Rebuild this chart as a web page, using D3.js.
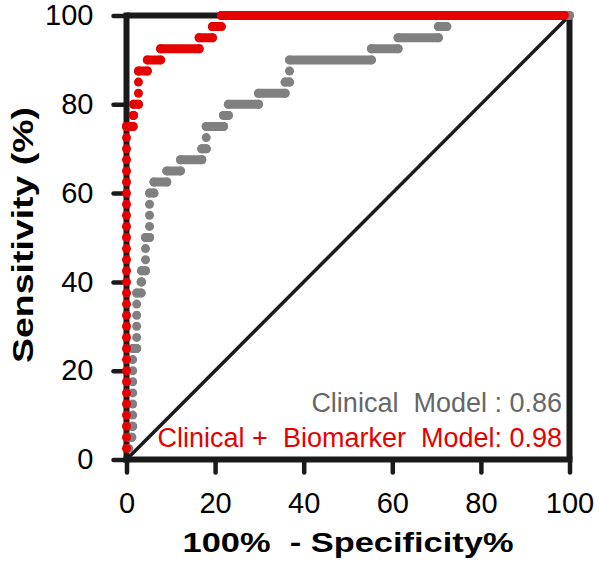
<!DOCTYPE html>
<html><head><meta charset="utf-8">
<script src="https://cdn.jsdelivr.net/npm/d3@7"></script>
<style>
body{margin:0;background:#fff}
text{font-family:"Liberation Sans",Arial,sans-serif}
</style>
</head><body>
<svg id="chart" width="600" height="570"></svg>
<script>
const xTicks = [0, 20, 40, 60, 80, 100];
const yTicks = [0, 20, 40, 60, 80, 100];
const xTitle = "100%  - Specificity%";
const yTitle = "Sensitivity (%)";

// sensitivity levels (one per positive case)
const tprLevels = [2.5,5,7.5,10,12.5,15,17.5,20,22.5,25,27.5,30,32.5,35,37.5,40,42.5,45,47.5,50,
                   52.5,55,57.5,60,62.5,65,67.5,70,72.5,75,77.5,80,82.5,85,87.5,90,92.5,95,97.5,100];

// Clinical model: range of 100%-specificity at each sensitivity level
const clinicalFprStart = [0.5,0.5,1.2,1.4,1.4,1.4,1.4,1.4,1.4,1.4,2.3,2.3,2.3,2.3,2.3,3.3,3.4,4.3,4.3,4.3,
                          5.2,5.2,5.2,5.2,6.2,9.1,12.2,17.0,18.0,18.0,21.9,23.0,29.8,35.8,36.8,36.8,55.3,61.3,70.4,72.3];
const clinicalFprEnd   = [0.5,1.2,1.4,1.4,1.4,1.4,1.4,1.4,1.4,2.3,2.3,2.3,2.3,2.3,3.3,3.4,4.3,4.3,4.3,5.2,
                          5.2,5.2,5.2,6.2,9.1,12.2,17.0,18.0,18.0,21.9,23.0,29.8,35.8,36.8,36.8,55.3,61.3,70.4,72.3,100];

// Clinical + Biomarker model
const comboFprStart = [0,0,0,0,0,0,0,0,0,0,0,0,0,0,0,0,0,0,0,0,
                       0,0,0,0,0,0,0,0,0,0,1.5,1.6,2.7,2.7,2.7,4.7,7.7,16.4,19.4,21.4];
const comboFprEnd   = [0,0,0,0,0,0,0,0,0,0,0,0,0,0,0,0,0,0,0,0,
                       0,0,0,0,0,0,0,0,0,1.5,1.6,2.7,2.7,2.7,4.7,7.7,16.4,19.4,21.4,98.8];

const seriesNames = ["Clinical  Model : 0.86", "Clinical +  Biomarker  Model: 0.98"];
const seriesColors = ["#808080", "#e60000"];

const svg = d3.select("#chart");
const x = d3.scaleLinear().domain([0, 100]).range([126.5, 569.5]);
const y = d3.scaleLinear().domain([0, 100]).range([459.5, 15.5]);
const ink = "#1a1a1a";

// diagonal reference line
svg.append("line")
  .attr("x1", x(0)).attr("y1", y(0)).attr("x2", x(100)).attr("y2", y(100))
  .attr("stroke", ink).attr("stroke-width", 3.5);

// frame top and right
svg.append("line").attr("x1", x(0)).attr("x2", x(100)).attr("y1", y(100)).attr("y2", y(100))
  .attr("stroke", ink).attr("stroke-width", 6);
svg.append("line").attr("x1", x(100)).attr("x2", x(100)).attr("y1", y(100)).attr("y2", y(0))
  .attr("stroke", ink).attr("stroke-width", 6);

// axes
const xAxis = svg.append("g").attr("transform", `translate(0,${y(0)})`)
  .call(d3.axisBottom(x).tickValues(xTicks).tickSize(13).tickPadding(20).tickFormat(d3.format("d")));
const yAxis = svg.append("g").attr("transform", `translate(${x(0)},0)`)
  .call(d3.axisLeft(y).tickValues(yTicks).tickSize(13).tickPadding(20).tickFormat(d3.format("d")));
[xAxis, yAxis].forEach(g => {
  g.select(".domain").attr("stroke", ink).attr("stroke-width", 6);
  g.selectAll(".tick line").attr("stroke", ink).attr("stroke-width", 4.5).attr("stroke-linecap", "round");
  g.selectAll(".tick text").attr("fill", "#000").style("font-size", "29px")
   .style("font-family", '"Liberation Sans", Arial, sans-serif');
});
xAxis.select(".domain").attr("d", `M${x(0)-3},0H${x(100)+3}`);
yAxis.select(".domain").attr("d", `M0,${y(0)+3}V${y(100)-3}`);
xAxis.selectAll(".tick text").attr("dy", "0.71em").attr("y", 33);
yAxis.selectAll(".tick text").attr("x", -33);

// series
function drawSeries(starts, ends, color) {
  const g = svg.append("g");
  const rows = tprLevels.map((t, i) => ({t, s: starts[i], e: ends[i]}));
  g.selectAll("line").data(rows.filter(r => r.e > r.s)).join("line")
    .attr("x1", r => x(r.s)).attr("x2", r => x(r.e))
    .attr("y1", r => y(r.t)).attr("y2", r => y(r.t))
    .attr("stroke", color).attr("stroke-width", 9).attr("stroke-linecap", "round");
  const pts = [];
  rows.forEach(r => { pts.push({x: r.s, t: r.t}); if (r.e > r.s) pts.push({x: r.e, t: r.t}); });
  g.selectAll("circle").data(pts).join("circle")
    .attr("cx", p => x(p.x)).attr("cy", p => y(p.t)).attr("r", 4.5).attr("fill", color);
}
drawSeries(clinicalFprStart, clinicalFprEnd, seriesColors[0]);
drawSeries(comboFprStart, comboFprEnd, seriesColors[1]);

// legend text
svg.append("text").attr("x", 562).attr("y", 412).attr("text-anchor", "end")
  .attr("fill", "#666666").style("font-size", "27px").style("white-space", "pre")
  .text(seriesNames[0]);
svg.append("text").attr("x", 562).attr("y", 447).attr("text-anchor", "end")
  .attr("fill", seriesColors[1]).style("font-size", "27px").style("white-space", "pre")
  .text(seriesNames[1]);

// axis titles
svg.append("text").attr("x", (x(0) + x(100)) / 2).attr("y", 552).attr("text-anchor", "middle")
  .style("font-size", "28px").style("font-weight", "bold").style("white-space", "pre")
  .attr("textLength", 331).attr("lengthAdjust", "spacingAndGlyphs")
  .attr("fill", "#000").text(xTitle);
svg.append("text").attr("transform", `translate(33,235) rotate(-90)`)
  .attr("text-anchor", "middle").style("font-size", "29px").style("font-weight", "bold")
  .attr("textLength", 256).attr("lengthAdjust", "spacingAndGlyphs")
  .attr("fill", "#000").text(yTitle);
</script>
</body></html>
